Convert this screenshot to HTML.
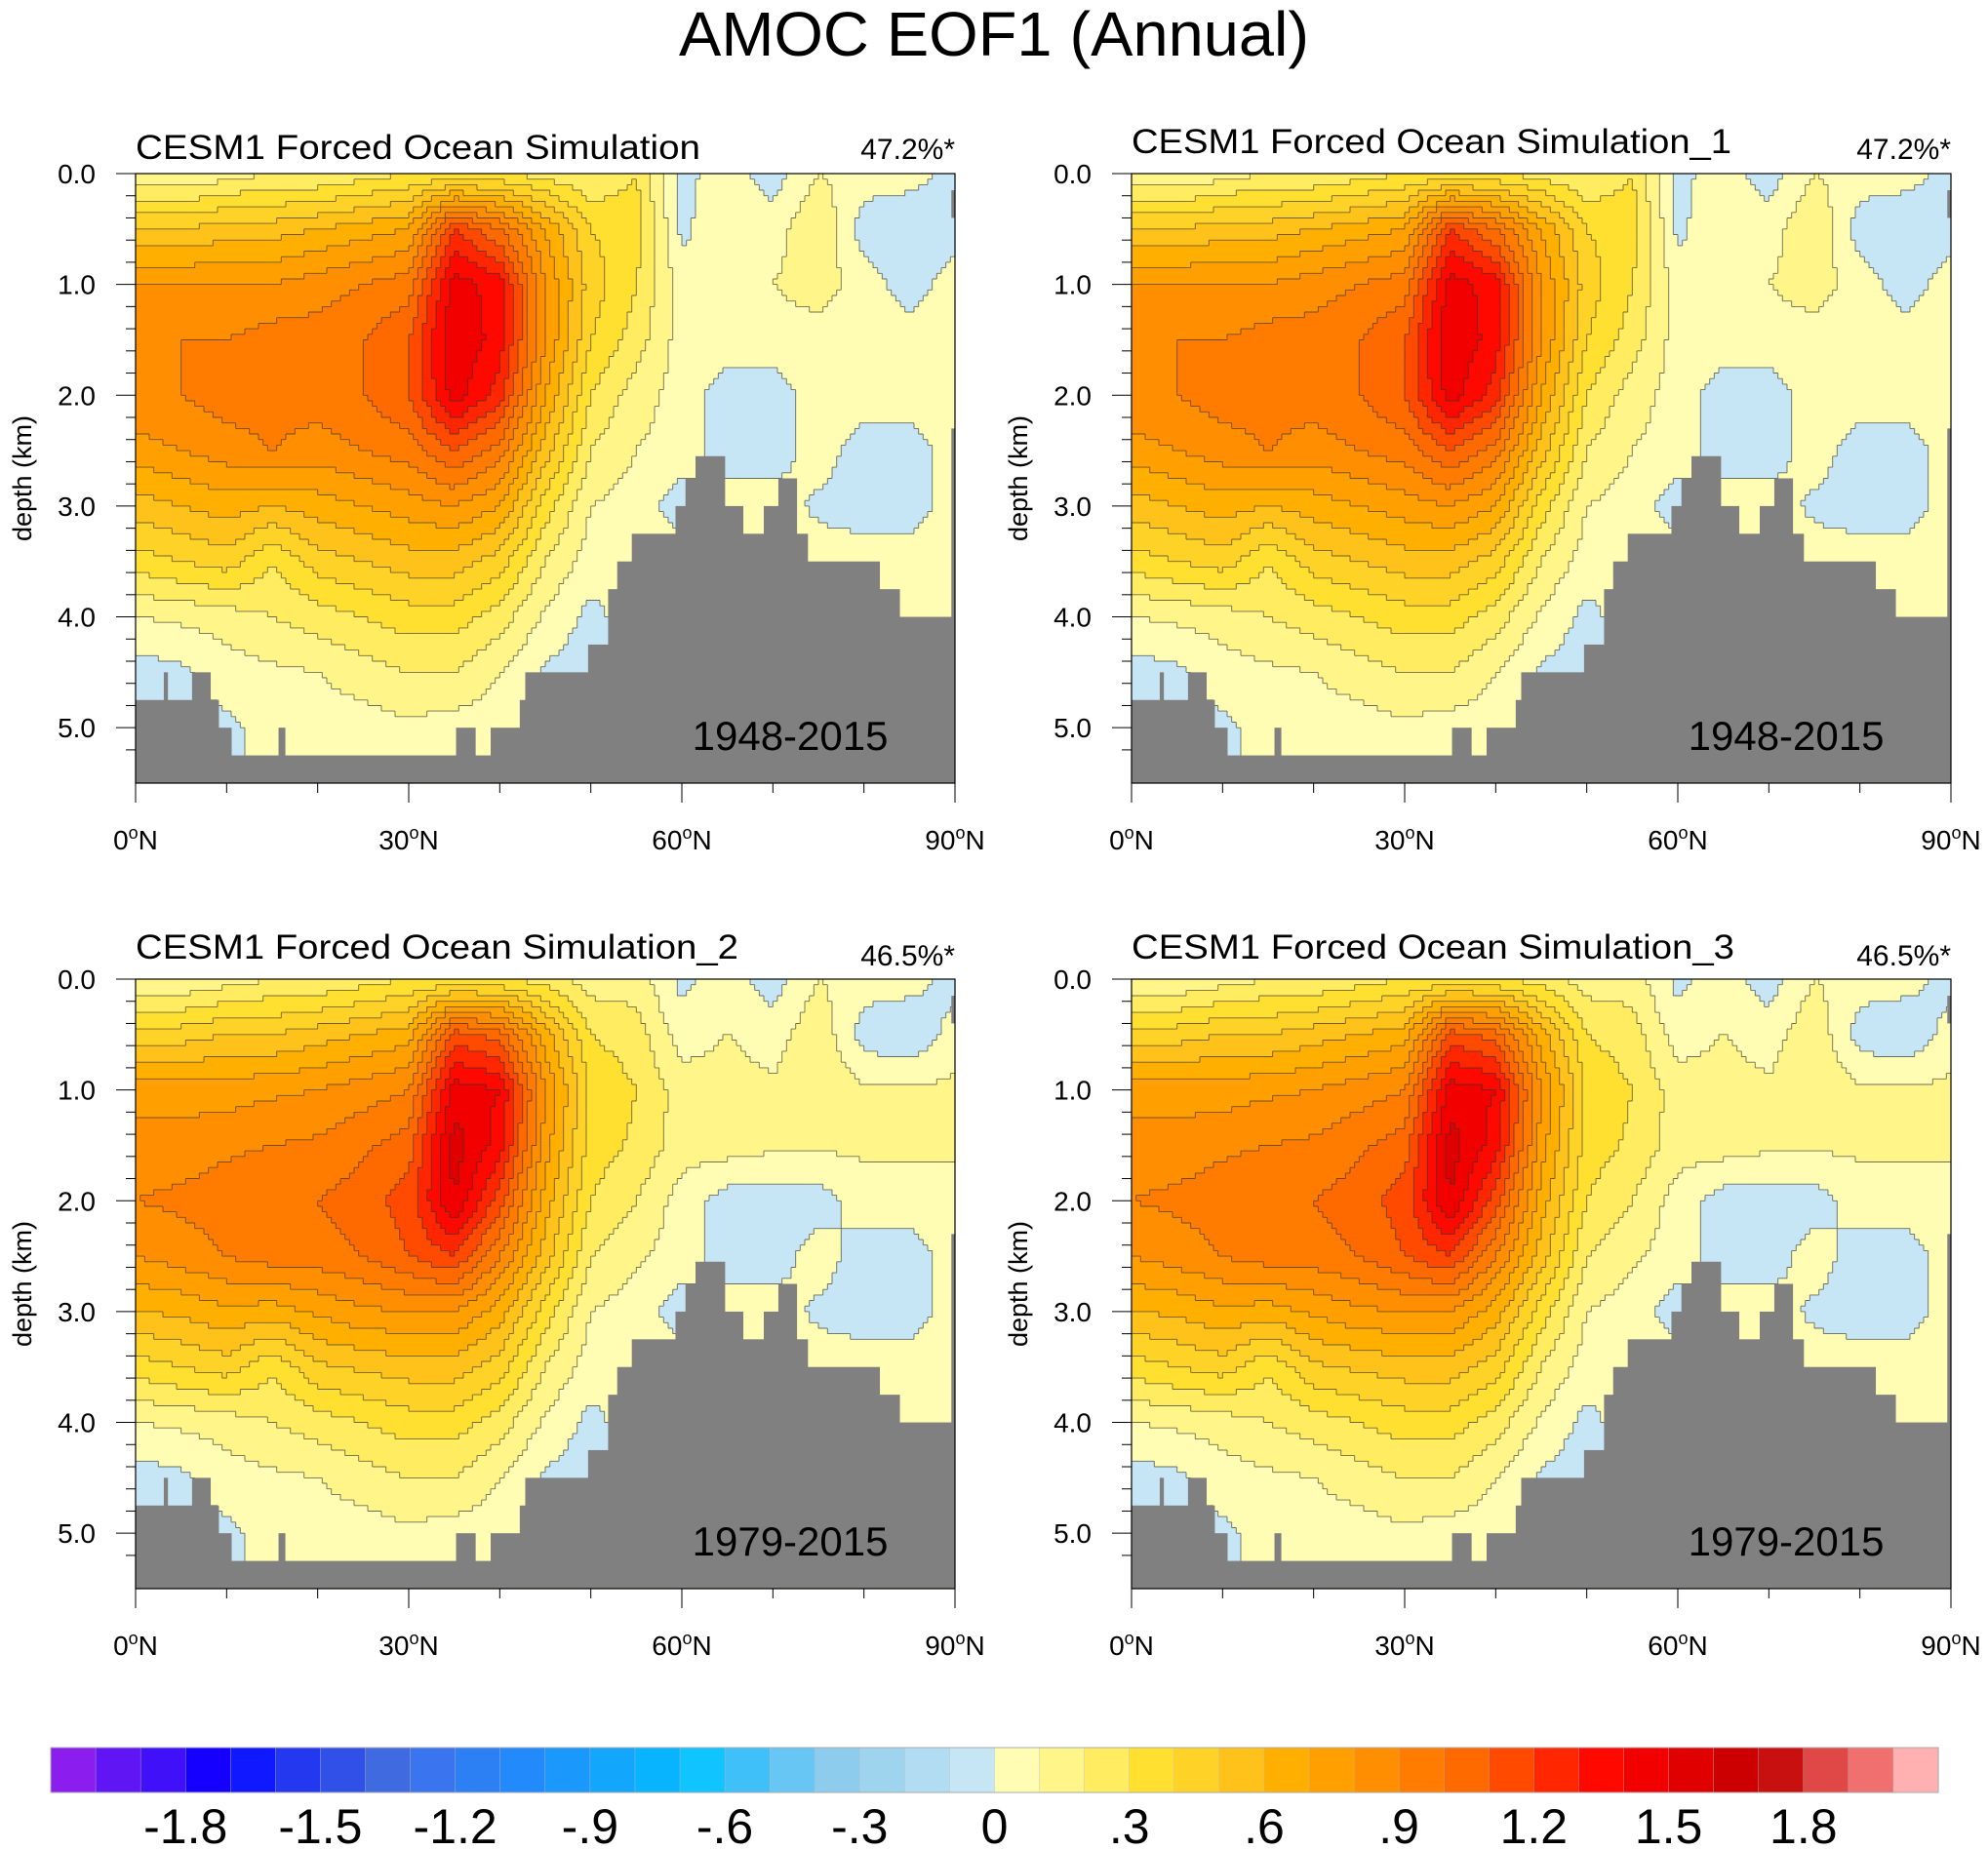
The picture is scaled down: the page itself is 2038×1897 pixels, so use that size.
<!DOCTYPE html>
<html><head><meta charset="utf-8"><title>AMOC EOF1 (Annual)</title>
<style>
html,body{margin:0;padding:0;background:#fff;}
svg{display:block;font-family:"Liberation Sans",Arial,sans-serif;}
</style></head>
<body>
<svg id="chart" width="2038" height="1897" viewBox="0 0 2038 1897" xmlns="http://www.w3.org/2000/svg">
<text x="1019" y="57" text-anchor="middle" font-size="64" textLength="646" lengthAdjust="spacingAndGlyphs">AMOC EOF1 (Annual)</text>
<g id="panels"></g>
<g id="colorbar"></g>
</svg>
<script>
// ---- data ----
const lats = [0,5,10,15,20,25,30,35,40,45,50,55,60,65,70,75,80,85,90];
const depths = [0,0.5,1,1.5,2,2.5,3,3.5,4,4.5,5,5.5];
// EOF values per latitude column (rows = depths), 1948-2015
const eofA = [
 [0.10,0.50,0.80,0.85,0.90,0.75,0.55,0.35,0.10,-0.05,-0.05,-0.05],
 [0.10,0.50,0.80,0.90,0.90,0.80,0.60,0.40,0.12,-0.02,-0.05,-0.05],
 [0.15,0.55,0.80,0.90,0.95,0.85,0.65,0.45,0.15,0.05,-0.02,-0.02],
 [0.20,0.55,0.80,0.95,0.95,0.90,0.60,0.30,0.20,0.08,0.03,0.03],
 [0.20,0.60,0.85,0.95,0.95,0.85,0.65,0.45,0.25,0.10,0.05,0.05],
 [0.25,0.65,0.90,1.00,1.00,0.90,0.70,0.50,0.30,0.15,0.05,0.05],
 [0.30,0.70,0.95,1.10,1.10,0.95,0.75,0.55,0.35,0.20,0.08,0.05],
 [0.30,1.20,1.45,1.50,1.45,1.10,0.80,0.55,0.35,0.20,0.05,0.05],
 [0.30,1.00,1.35,1.35,1.25,0.95,0.70,0.45,0.25,0.10,0.05,0.05],
 [0.25,0.70,0.80,0.80,0.70,0.55,0.35,0.20,0.08,-0.02,0.05,0.05],
 [0.20,0.40,0.45,0.40,0.30,0.20,0.10,0.05,-0.03,-0.05,0.05,0.05],
 [0.30,0.35,0.30,0.25,0.15,0.10,0.05,0.05,0.05,0.05,0.05,0.05],
 [-0.03,-0.03,0.05,0.05,0.05,0.05,-0.05,0.05,0.05,0.05,0.05,0.05],
 [0.05,0.10,0.10,0.05,-0.05,-0.05,0.05,0.05,0.05,0.05,0.05,0.05],
 [-0.05,0.05,0.10,0.05,-0.05,-0.05,0.05,0.05,0.05,0.05,0.05,0.05],
 [0.10,0.20,0.15,0.05,0.05,0.05,-0.02,0.05,0.05,0.05,0.05,0.05],
 [0.05,-0.05,0.05,0.05,0.05,-0.05,-0.05,0.05,0.05,0.05,0.05,0.05],
 [0.05,-0.10,-0.05,0.05,0.05,-0.05,-0.05,0.05,0.05,0.05,0.05,0.05],
 [-0.05,-0.05,0.05,0.05,0.05,0.05,0.05,0.05,0.05,0.05,0.05,0.05]
];
// 1979-2015
const eofB = [
 [0.10,0.45,0.75,0.85,0.90,0.80,0.60,0.35,0.10,-0.05,-0.05,-0.05],
 [0.10,0.45,0.75,0.85,0.92,0.85,0.62,0.40,0.12,-0.02,-0.05,-0.05],
 [0.15,0.50,0.75,0.88,0.95,0.90,0.68,0.45,0.15,0.05,-0.02,-0.02],
 [0.20,0.50,0.78,0.90,0.98,0.95,0.65,0.32,0.20,0.08,0.03,0.03],
 [0.20,0.55,0.80,0.92,1.00,0.95,0.72,0.48,0.25,0.10,0.05,0.05],
 [0.25,0.60,0.85,0.98,1.05,1.00,0.78,0.52,0.30,0.15,0.05,0.05],
 [0.30,0.65,0.90,1.05,1.15,1.10,0.80,0.55,0.35,0.20,0.08,0.05],
 [0.30,1.15,1.45,1.55,1.50,1.20,0.80,0.55,0.35,0.20,0.05,0.05],
 [0.30,1.05,1.40,1.35,1.15,0.90,0.65,0.45,0.25,0.10,0.05,0.05],
 [0.25,0.65,0.80,0.75,0.65,0.55,0.35,0.20,0.08,-0.02,0.05,0.05],
 [0.15,0.30,0.38,0.35,0.30,0.20,0.10,0.05,-0.03,-0.05,0.05,0.05],
 [0.15,0.25,0.30,0.28,0.20,0.12,0.05,0.05,0.05,0.05,0.05,0.05],
 [-0.03,0.05,0.15,0.15,0.05,0.05,-0.05,0.05,0.05,0.05,0.05,0.05],
 [0.05,0.10,0.15,0.15,-0.05,-0.05,0.05,0.05,0.05,0.05,0.05,0.05],
 [-0.05,0.05,0.12,0.12,-0.05,-0.05,0.05,0.05,0.05,0.05,0.05,0.05],
 [0.10,0.18,0.18,0.12,-0.05,0.05,-0.02,0.05,0.05,0.05,0.05,0.05],
 [0.05,-0.05,0.12,0.12,0.05,-0.05,-0.05,0.05,0.05,0.05,0.05,0.05],
 [0.05,-0.10,0.12,0.12,0.05,-0.05,-0.05,0.05,0.05,0.05,0.05,0.05],
 [-0.05,0.05,0.12,0.12,0.05,0.05,0.05,0.05,0.05,0.05,0.05,0.05]
];
// bathymetry: latitude bin edges and floor depth (km)
const topoEdges = [0,3.1,3.5,6.2,8.2,9.1,10.5,15.7,16.4,35.2,37.3,39.0,42.2,42.8,49.7,51.9,52.9,54.5,59.3,60.4,61.5,64.7,66.7,69.0,70.6,72.6,73.8,81.7,83.9,89.6,90];
const topoDepth = [4.75,4.5,4.75,4.5,4.75,5.0,5.25,5.0,5.25,5.0,5.25,5.0,4.75,4.5,4.25,3.75,3.5,3.25,3.0,2.75,2.55,3.0,3.25,3.0,2.75,3.25,3.5,3.75,4.0,2.3];
const panelTitles = ["CESM1 Forced Ocean Simulation","CESM1 Forced Ocean Simulation_1","CESM1 Forced Ocean Simulation_2","CESM1 Forced Ocean Simulation_3"];
const panelPct = ["47.2%*","47.2%*","46.5%*","46.5%*"];
const panelYears = ["1948-2015","1948-2015","1979-2015","1979-2015"];
const yTicks = [0,1,2,3,4,5];
const yTickLabels = ["0.0","1.0","2.0","3.0","4.0","5.0"];
const xTicks = [0,30,60,90];
const xTickLabels = ["0","30","60","90"];
const cbLabels = ["-1.8","-1.5","-1.2","-.9","-.6","-.3","0",".3",".6",".9","1.2","1.5","1.8"];
const cbLabelVals = [-1.8,-1.5,-1.2,-0.9,-0.6,-0.3,0,0.3,0.6,0.9,1.2,1.5,1.8];
const colors = ["#8B1EEF","#6015F5","#3F10F8","#1500FF","#1018FF","#2438F0","#3050E8","#406AE0","#3A74EE","#2C80F4","#228AFA","#1A98FC","#12A6FC","#08B4FE","#10C4FF","#40C0F8","#68C6F4","#8ECCEE","#9ED4EE","#B2DCF2","#C6E6F6",
"#FFFDB4","#FFF588","#FFEC60","#FFDF30","#FFD228","#FFC21A","#FFAF00","#FFA000","#FF8E00","#FF7C00","#FF6A00","#FF4A00","#FF2600","#FF0800","#F20000","#E00000","#CC0000","#C81010","#E04848","#F07070","#FFB0B0"];

const NS="http://www.w3.org/2000/svg";
function mk(tag,attrs,parent){const e=document.createElementNS(NS,tag);for(const k in attrs)e.setAttribute(k,attrs[k]);parent.appendChild(e);return e;}
function levelOf(v){let k=Math.floor(v/0.1+1e-9)+21;return Math.max(0,Math.min(41,k));}
function sample(grid,lat,d){
  let fi=lat/5, fj=d/0.5;
  let i=Math.min(17,Math.floor(fi)), j=Math.min(10,Math.floor(fj));
  let a=fi-i,b=fj-j;
  return grid[i][j]*(1-a)*(1-b)+grid[i+1][j]*a*(1-b)+grid[i][j+1]*(1-a)*b+grid[i+1][j+1]*a*b;
}
const panelsG=document.getElementById('panels');
const pos=[[139,178],[1160,178],[139,1004],[1160,1004]];
const W=840,H=625;
const titleY=[163,157,983,983];
const pctY=[163,163,990,990];
const titleW=[579,615,618,618];
for(let p=0;p<4;p++){
  const [x0,y0]=pos[p];
  const grid=p<2?eofA:eofB;
  const xs=lat=>x0+lat/90*W;
  const ys=d=>y0+d/5.5*H;
  const g=mk('g',{},panelsG);
  
  
  const field=mk('g',{},g);
  
  
  const NX=180,NY=110;
  const lv=[];
  for(let j=0;j<NY;j++){lv.push([]);for(let i=0;i<NX;i++){lv[j].push(levelOf(sample(grid,(i+0.5)*0.5,(j+0.5)*0.05)));}}
  let lines="";
  for(let j=0;j<NY;j++){
    let i=0;
    while(i<NX){
      let k=lv[j][i],s=i;
      while(i<NX&&lv[j][i]===k)i++;
      const r=mk('rect',{x:xs(s*0.5).toFixed(2),y:ys(j*0.05).toFixed(2),width:(xs(i*0.5)-xs(s*0.5)+0.6).toFixed(2),height:(ys(0.05)-ys(0)+0.6).toFixed(2),fill:colors[k]},field);
      
      
      if(i<NX){const xx=xs(i*0.5).toFixed(1);lines+=`M${xx} ${ys(j*0.05).toFixed(1)}V${ys((j+1)*0.05).toFixed(1)}`;}
    }
    if(j<NY-1){for(let q=0;q<NX;q++){if(lv[j][q]!==lv[j+1][q]){const yy=ys((j+1)*0.05).toFixed(1);lines+=`M${xs(q*0.5).toFixed(1)} ${yy}H${xs((q+1)*0.5).toFixed(1)}`;}}}
  }
  const cl=mk('path',{d:lines,stroke:'#333',"stroke-width":0.9,fill:'none',"stroke-opacity":0.7},g);
  
  
  // bathymetry
  const tg=mk('g',{fill:'#808080'},g);
  
  
  for(let t=0;t<topoDepth.length;t++){
    const r=mk('rect',{x:xs(topoEdges[t]).toFixed(2),y:ys(topoDepth[t]).toFixed(2),width:(xs(topoEdges[t+1])-xs(topoEdges[t])+0.5).toFixed(2),height:(ys(5.5)-ys(topoDepth[t])).toFixed(2)},tg);
    
    
  }
  mk('rect',{x:xs(89.6),y:ys(0.15),width:xs(90)-xs(89.6),height:ys(0.4)-ys(0.15)},tg);
  // frame
  const fr=mk('rect',{x:x0,y:y0,width:W,height:H,fill:'none',stroke:'#000',"stroke-width":1.2},g);
  
  
  // y ticks
  for(let d=0;d<=5.4;d+=0.2){const y=ys(d);const major=Math.abs(d-Math.round(d))<0.01;mk('line',{x1:x0-(major?20:10),x2:x0,y1:y,y2:y,stroke:'#000',"stroke-width":1},g);}
  yTicks.forEach((d,k)=>{const t=mk('text',{x:x0-41,y:ys(d)+10,"text-anchor":"end","font-size":28},g);t.textContent=yTickLabels[k];});
  for(let lat=0;lat<=90;lat+=10){const x=xs(lat);const major=lat%30===0;mk('line',{x1:x,x2:x,y1:y0+H,y2:y0+H+(major?20:10),stroke:'#000',"stroke-width":1},g);}
  xTicks.forEach((lat,k)=>{const t=mk('text',{x:xs(lat),y:y0+H+68,"text-anchor":"middle","font-size":28},g);t.innerHTML=xTickLabels[k]+'<tspan font-size="18" dy="-11">o</tspan><tspan dy="11">N</tspan>';});
  const yt=mk('text',{x:0,y:0,"text-anchor":"middle","font-size":27,transform:`translate(${x0-107},${y0+H/2}) rotate(-90)`},g);
  yt.textContent='depth (km)';
  
  
  const tt=mk('text',{x:x0,y:titleY[p],"font-size":35,textLength:titleW[p],lengthAdjust:'spacingAndGlyphs'},g);
  tt.textContent=panelTitles[p];
  
  
  const pt=mk('text',{x:x0+W,y:pctY[p],"font-size":30,"text-anchor":"end"},g);
  pt.textContent=panelPct[p];
  
  
  const yr=mk('text',{x:xs(71.9),y:ys(5.2),"font-size":42,"text-anchor":"middle"},g);
  yr.textContent=panelYears[p];
  
  
}
// colorbar
const cb=document.getElementById('colorbar');
const cbx0=52,cbx1=1987,cby0=1792,cby1=1838;
const bw=(cbx1-cbx0)/42;
for(let k=0;k<42;k++){
  const r=mk('rect',{x:(cbx0+k*bw).toFixed(2),y:cby0,width:(bw+0.4).toFixed(2),height:cby1-cby0,fill:colors[k],stroke:'#bbb',"stroke-width":0.4},cb);
  
  
}
mk('rect',{x:cbx0,y:cby0,width:cbx1-cbx0,height:cby1-cby0,fill:'none',stroke:'#aaa',"stroke-width":1},cb);
cbLabels.forEach((s,k)=>{
  const x=cbx0+(cbLabelVals[k]/0.1+21)*bw;
  const t=mk('text',{x:x,y:1890,"text-anchor":"middle","font-size":50},cb);
  t.textContent=s;
  
  
});
</script>
</body></html>
